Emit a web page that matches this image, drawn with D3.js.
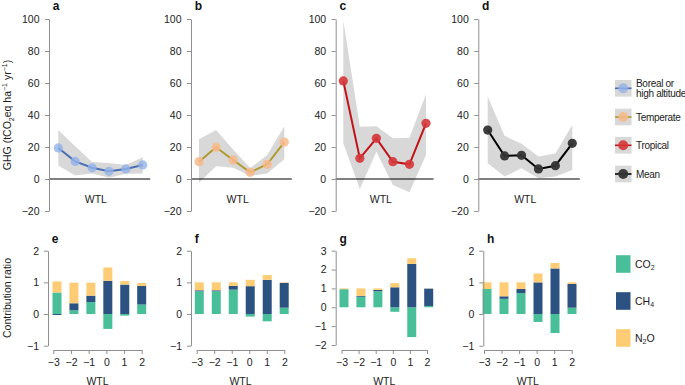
<!DOCTYPE html>
<html>
<head>
<meta charset="utf-8">
<script src="https://cdnjs.cloudflare.com/ajax/libs/d3/7.8.5/d3.min.js"></script>
<style>
    body { margin: 0; background: #fff; }
    svg { font-family: "Liberation Sans", Arial, sans-serif; }
</style>
</head>
<body>
<svg id="chart" width="685" height="385"></svg>
<script>
// water table level classes (x axis)
const wtl = [-3, -2, -1, 0, 1, 2];
const topTicks = [-20, 0, 20, 40, 60, 80, 100];
const ratioTicks = [-1, 0, 1, 2];
const ratioTicksG = [-2, -1, 0, 1, 2, 3];

// GHG means and shaded ranges per climate zone
const borealGhg = [19.4, 11, 7, 4.8, 6.3, 8.8];
const borealLow = [8.5, 2.2, 3.5, 0.8, 3.3, 3.5];
const borealHigh = [30.6, 20.4, 10.6, 10, 8.8, 13.6];

const temperateGhg = [10.8, 19.8, 11.9, 4.2, 9.2, 23.1];
const temperateLow = [-2.3, 8, 7, 2, 3.5, 12.3];
const temperateHigh = [24.8, 30.6, 18.5, 6.8, 15, 33];

const tropicalGhg = [61.3, 12.9, 25.4, 10.8, 9.2, 34.8];
const tropicalLow = [22.3, -6.3, 17, -3.8, -8.3, 15];
const tropicalHigh = [99, 32.7, 33, 25.4, 25.8, 53];

const meanGhg = [30.6, 14.4, 14.8, 6.3, 8.3, 22.3];
const meanLow = [9.8, 1.5, 6.7, 0.4, 1.5, 5.6];
const meanHigh = [51.5, 27, 22, 14, 16, 33.7];

// contribution ratios (e..h)
const co2E = [0.68, 0.12, 0.38, -0.47, -0.05, 0.30];
const ch4E = [-0.03, 0.22, 0.20, 1.05, 0.93, 0.59];
const n2oE = [0.35, 0.65, 0.41, 0.42, 0.11, 0.09];

const co2F = [0.72, 0.72, 0.77, -0.08, -0.23, 0.20];
const ch4F = [0.03, 0.03, 0.12, 0.88, 1.08, 0.78];
const n2oF = [0.25, 0.25, 0.11, 0.20, 0.15, 0.02];

const co2G = [0.96, 0.56, 0.85, -0.24, -1.58, 0.07];
const ch4G = [0, 0.04, 0.07, 1.06, 2.30, 0.92];
const n2oG = [0.04, 0.40, 0.08, 0.22, 0.30, 0.01];

const co2H = [0.79, 0.48, 0.66, -0.25, -0.60, 0.20];
const ch4H = [0, 0.08, 0.13, 1.00, 1.44, 0.75];
const n2oH = [0.21, 0.44, 0.21, 0.28, 0.17, 0.05];

const gasKeys = ['co2', 'ch4', 'n2o'];
const gasColors = {co2: '#48bf98', ch4: '#2c5282', n2o: '#fdcc74'};

const svg = d3.select('#chart');
const axisGrey = '#8f8f8f';
const fs = 10.5;

function styleAxis(g) {
    g.select('.domain').attr('stroke', axisGrey);
    g.selectAll('.tick line').attr('stroke', axisGrey);
    g.selectAll('.tick text')
        .attr('fill', '#222')
        .attr('font-size', fs)
        .attr('font-family', '"Liberation Sans", Arial, sans-serif');
}

function panelLetter(txt, x, y) {
    svg.append('text')
        .text(txt)
        .attr('x', x)
        .attr('y', y)
        .attr('font-size', 12)
        .attr('font-weight', 'bold')
        .attr('fill', '#111');
}

// ---------- top row: GHG vs WTL ----------
const yTop = d3.scaleLinear().domain([-20, 100]).range([211, 19]);

const topPanels = [
    {id: 'a', axisX: 49, x0: 58.3, x1: 142.7, values: borealGhg, low: borealLow, high: borealHigh, line: '#4a6fb5', dot: '#94b3e8', dotOpacity: 0.8},
    {id: 'b', axisX: 191, x0: 199, x1: 284.3, values: temperateGhg, low: temperateLow, high: temperateHigh, line: '#b09a2e', dot: '#f8b98a', dotOpacity: 0.85},
    {id: 'c', axisX: 335.7, x0: 343.3, x1: 426, values: tropicalGhg, low: tropicalLow, high: tropicalHigh, line: '#c0141a', dot: '#d43638', dotOpacity: 0.9},
    {id: 'd', axisX: 478.3, x0: 487.7, x1: 572.3, values: meanGhg, low: meanLow, high: meanHigh, line: '#000', dot: '#333', dotOpacity: 0.95}
];

topPanels.forEach(function(p) {
    let x = d3.scalePoint().domain(wtl).range([p.x0, p.x1]);
    let g = svg.append('g');

    let band = d3.area()
        .x(function(d, i) { return x(wtl[i]); })
        .y0(function(d, i) { return yTop(p.low[i]); })
        .y1(function(d, i) { return yTop(p.high[i]); });
    g.append('path')
        .datum(p.values)
        .attr('fill', '#d8d8d8')
        .attr('d', band);

    // zero reference line
    g.append('line')
        .attr('x1', p.axisX)
        .attr('x2', p.x1 + 7.5)
        .attr('y1', yTop(0))
        .attr('y2', yTop(0))
        .attr('stroke', '#000')
        .attr('stroke-width', 1);

    let yAxis = g.append('g')
        .attr('transform', 'translate(' + p.axisX + ',0)')
        .call(d3.axisLeft(yTop).tickValues(topTicks).tickSize(4).tickSizeOuter(0).tickPadding(5.5));
    styleAxis(yAxis);

    let line = d3.line()
        .x(function(d, i) { return x(wtl[i]); })
        .y(function(d) { return yTop(d); });
    g.append('path')
        .datum(p.values)
        .attr('fill', 'none')
        .attr('stroke', p.line)
        .attr('stroke-width', 2)
        .attr('d', line);

    g.selectAll('.dot')
        .data(p.values)
        .enter().append('circle')
        .attr('class', 'dot')
        .attr('cx', function(d, i) { return x(wtl[i]); })
        .attr('cy', function(d) { return yTop(d); })
        .attr('r', 4.6)
        .attr('fill', p.dot)
        .attr('fill-opacity', p.dotOpacity);

    g.append('text')
        .text('WTL')
        .attr('x', (p.axisX + p.x1) / 2)
        .attr('y', 203)
        .attr('text-anchor', 'middle')
        .attr('font-size', fs)
        .attr('fill', '#222');

    panelLetter(p.id, p.axisX + 3.7, 10);
});

// y title, top row
let t1 = svg.append('text')
    .attr('transform', 'translate(11,115) rotate(-90)')
    .attr('text-anchor', 'middle')
    .attr('font-size', fs)
    .attr('fill', '#222');
t1.append('tspan').text('GHG (tCO');
t1.append('tspan').text('2').attr('font-size', 7).attr('dy', 2.5);
t1.append('tspan').text('eq ha').attr('dy', -2.5);
t1.append('tspan').text('−1').attr('font-size', 7).attr('dy', -4);
t1.append('tspan').text(' yr').attr('dy', 4);
t1.append('tspan').text('−1').attr('font-size', 7).attr('dy', -4);
t1.append('tspan').text(')').attr('dy', 4);

// legend, top row
const climateNames = [['Boreal or', 'high altitude'], ['Temperate'], ['Tropical'], ['Mean']];
const legendTopY = [88.3, 117, 145.3, 174];
topPanels.forEach(function(p, i) {
    let cy = legendTopY[i];
    let lg = svg.append('g');
    lg.append('rect')
        .attr('x', 615)
        .attr('y', cy - 8.3)
        .attr('width', 16.5)
        .attr('height', 16.6)
        .attr('fill', '#d8d8d8');
    lg.append('line')
        .attr('x1', 615)
        .attr('x2', 631.5)
        .attr('y1', cy)
        .attr('y2', cy)
        .attr('stroke', p.line)
        .attr('stroke-width', 1.6);
    lg.append('circle')
        .attr('cx', 623.2)
        .attr('cy', cy)
        .attr('r', 5)
        .attr('fill', p.dot)
        .attr('fill-opacity', p.dotOpacity);
    let names = climateNames[i];
    names.forEach(function(n, k) {
        lg.append('text')
            .text(n)
            .attr('x', 636)
            .attr('y', names.length === 1 ? cy + 3.8 : cy - 1.8 + k * 10.5)
            .attr('font-size', 10)
            .attr('letter-spacing', -0.3)
            .attr('fill', '#222');
    });
});

// ---------- bottom row: contribution ratios ----------
const yRatio = d3.scaleLinear().domain([-1, 2]).range([345.7, 250.7]);
const yRatioG = d3.scaleLinear().domain([-2, 3]).range([345, 250.7]);

const bottomPanels = [
    {id: 'e', axisX: 48, t0: 53.3, t1: 141.7, b0: 57, b1: 141.7, y: yRatio, ticks: ratioTicks, co2: co2E, ch4: ch4E, n2o: n2oE},
    {id: 'f', axisX: 191, t0: 196.7, t1: 284.3, b0: 199.3, b1: 284.2, y: yRatio, ticks: ratioTicks, co2: co2F, ch4: ch4F, n2o: n2oF},
    {id: 'g', axisX: 335.7, t0: 341.5, t1: 427, b0: 344, b1: 428.7, y: yRatioG, ticks: ratioTicksG, co2: co2G, ch4: ch4G, n2o: n2oG},
    {id: 'h', axisX: 483.3, t0: 484, t1: 571.7, b0: 487, b1: 572, y: yRatio, ticks: ratioTicks, co2: co2H, ch4: ch4H, n2o: n2oH}
];

const stack = d3.stack().keys(gasKeys).offset(d3.stackOffsetDiverging);

bottomPanels.forEach(function(p) {
    let xt = d3.scalePoint().domain(wtl).range([p.t0, p.t1]);
    let xb = d3.scalePoint().domain(wtl).range([p.b0, p.b1]);
    let y = p.y;
    let g = svg.append('g');

    let rows = wtl.map(function(w, i) {
        return {wtl: w, co2: p.co2[i], ch4: p.ch4[i], n2o: p.n2o[i]};
    });
    let series = stack(rows);

    g.selectAll('.gas')
        .data(series)
        .enter().append('g')
        .attr('class', 'gas')
        .attr('fill', function(s) { return gasColors[s.key]; })
        .selectAll('rect')
        .data(function(s) { return s; })
        .enter().append('rect')
        .attr('x', function(d) { return xb(d.data.wtl) - 4.5; })
        .attr('width', 9)
        .attr('y', function(d) { return y(Math.max(d[0], d[1])); })
        .attr('height', function(d) { return Math.abs(y(d[0]) - y(d[1])); });

    let yAxis = g.append('g')
        .attr('transform', 'translate(' + p.axisX + ',0)')
        .call(d3.axisLeft(y).tickValues(p.ticks).tickFormat(d3.format('d')).tickSize(4).tickSizeOuter(0).tickPadding(5));
    styleAxis(yAxis);

    let xAxis = g.append('g')
        .attr('transform', 'translate(0,350)')
        .call(d3.axisBottom(xt).tickFormat(d3.format('d')).tickSize(4).tickSizeOuter(0).tickPadding(5));
    styleAxis(xAxis);

    g.append('text')
        .text('WTL')
        .attr('x', (p.t0 + p.t1) / 2)
        .attr('y', 384.5)
        .attr('text-anchor', 'middle')
        .attr('font-size', fs)
        .attr('fill', '#222');

    panelLetter(p.id, p.axisX + 3.7, 242.5);
});

svg.append('text')
    .text('Contribution ratio')
    .attr('transform', 'translate(11,298) rotate(-90)')
    .attr('text-anchor', 'middle')
    .attr('font-size', fs)
    .attr('fill', '#222');

// legend, bottom row
const gasLabels = [['CO', '2', ''], ['CH', '4', ''], ['N', '2', 'O']];
const legendGasY = [264, 301, 338];
gasKeys.forEach(function(k, i) {
    let cy = legendGasY[i];
    svg.append('rect')
        .attr('x', 616)
        .attr('y', cy - 8.8)
        .attr('width', 14.5)
        .attr('height', 17.6)
        .attr('fill', gasColors[k]);
    let t = svg.append('text')
        .attr('x', 635)
        .attr('y', cy + 3.8)
        .attr('font-size', fs)
        .attr('fill', '#222');
    t.append('tspan').text(gasLabels[i][0]);
    t.append('tspan').text(gasLabels[i][1]).attr('font-size', 7).attr('dy', 2.5);
    if (gasLabels[i][2]) {
        t.append('tspan').text(gasLabels[i][2]).attr('dy', -2.5);
    }
});
</script>
</body>
</html>
